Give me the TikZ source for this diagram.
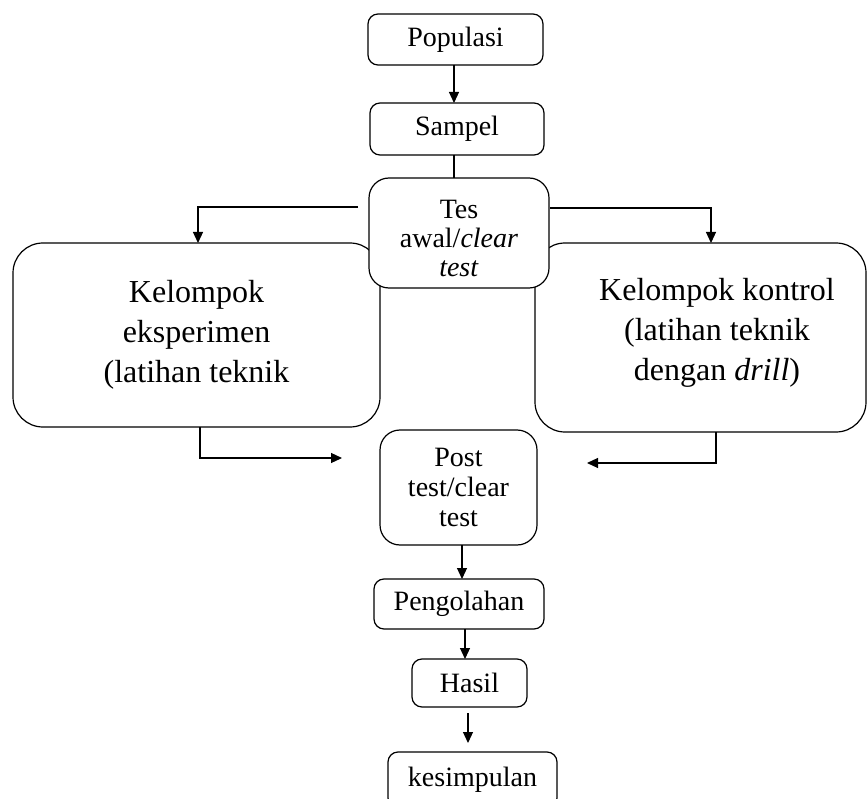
\documentclass[tikz,border=0pt]{standalone}
\usepackage{fontspec}
\setmainfont{Liberation Serif}
\usetikzlibrary{arrows.meta}
\begin{document}
\begin{tikzpicture}[x=1pt,y=-1pt,
  every node/.style={inner sep=0pt, outer sep=0pt},
  smallbox/.style={draw, line width=1.2pt, rounded corners=10pt, fill=white,
    font=\fontsize{28}{30}\selectfont, align=center},
  midbox/.style={smallbox, rounded corners=20pt},
  bigbox/.style={draw, line width=1.2pt, rounded corners=30pt, fill=white},
  bigtext/.style={font=\fontsize{32}{40}\selectfont, align=center},
  conn/.style={line width=1.2pt},
  arr/.style={conn, -{Triangle[length=11pt,width=10pt]}}]
\useasboundingbox (0,0) rectangle (867,799);
\clip (0,0) rectangle (867,799);
\fill[white] (0,0) rectangle (867,799);

% treatment groups
\node[bigbox, bigtext, minimum width=367pt, minimum height=184pt] (lbox) at (196.5,335)
  {Kelompok\\eksperimen\\(latihan teknik};
\node[bigbox, minimum width=331pt, minimum height=189pt] (rbox) at (700.5,337.5) {};
\node[bigtext] (rtext) at (717,333) {Kelompok kontrol\\(latihan teknik\\dengan \textit{drill})};

% main flow
\node[smallbox, minimum width=175pt, minimum height=51pt] (pop) at (455.5,39.5) {Populasi};
\node[smallbox, minimum width=174pt, minimum height=52pt] (sam) at (457,129) {Sampel};
\node[midbox, minimum width=180pt, minimum height=110pt] (tes) at (459,233) {};
\node[font=\fontsize{28}{29}\selectfont, align=center] (testext) at (459,238)
  {Tes\\awal/\textit{clear}\\\textit{test}};
\node[midbox, minimum width=157pt, minimum height=115pt] (post) at (458.5,487.5)
  {Post\\test/clear\\test};
\node[smallbox, minimum width=170pt, minimum height=50pt] (peng) at (459,604) {Pengolahan};
\node[smallbox, minimum width=115pt, minimum height=48pt] (has) at (469.5,683) {Hasil};
\node[smallbox, minimum width=169pt, minimum height=56pt] (kes) at (472.5,780) {kesimpulan};

% free ends of the arrows that point toward the post test
\coordinate (inL) at (342,458);
\coordinate (inR) at (587,463);

% connectors
\draw[arr] ([xshift=-1.5pt]pop.south) -- ([xshift=-3pt]sam.north);
\draw[conn] ([xshift=-3pt]sam.south) -- ([xshift=-5pt]tes.north);
\draw[arr] ([xshift=-11pt,yshift=26pt]tes.west) -| ([xshift=1.5pt]lbox.north);
\draw[arr] ([xshift=1pt,yshift=25pt]tes.east) -| ([xshift=10.5pt]rbox.north);
\draw[arr] ([xshift=3.5pt]lbox.south) |- (inL);
\draw[arr] ([xshift=15.5pt]rbox.south) |- (inR);
\draw[arr] ([xshift=3.5pt]post.south) -- ([xshift=3pt]peng.north);
\draw[arr] ([xshift=6pt]peng.south) -- ([xshift=-4.5pt]has.north);
\draw[arr] ([xshift=-1.5pt,yshift=-6pt]has.south) -- ([xshift=-4.5pt,yshift=9pt]kes.north);
\end{tikzpicture}
\end{document}
